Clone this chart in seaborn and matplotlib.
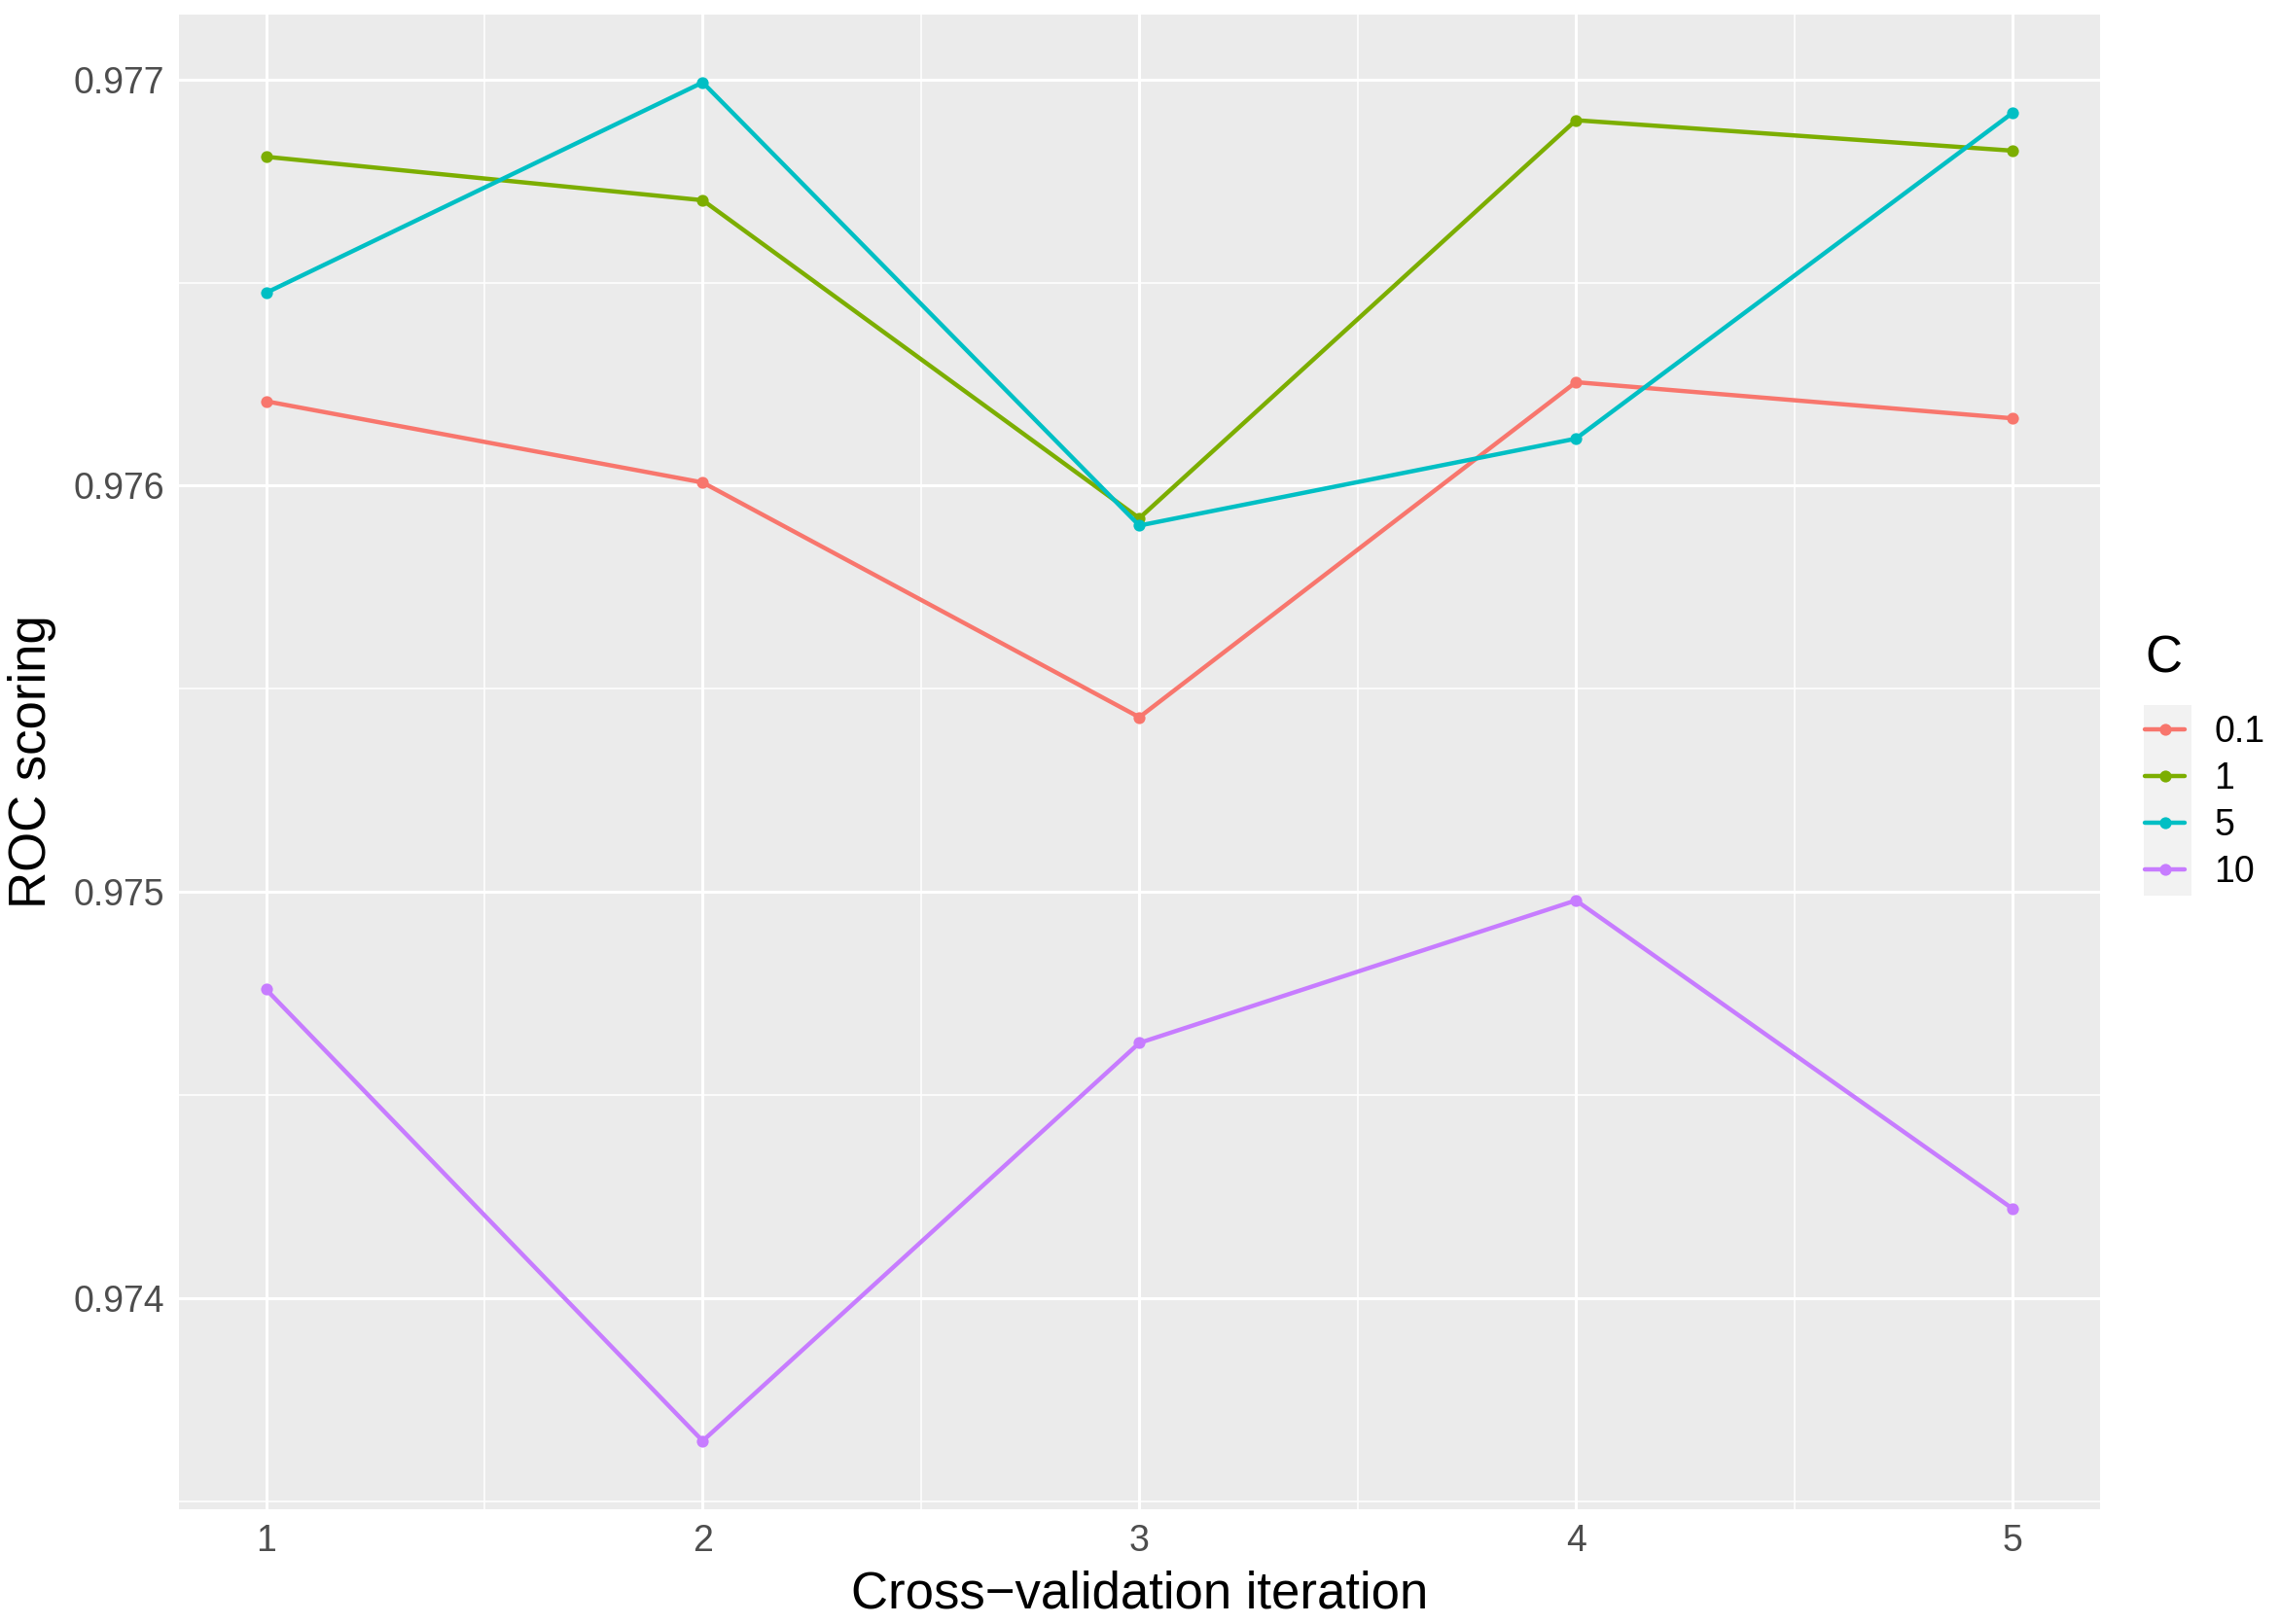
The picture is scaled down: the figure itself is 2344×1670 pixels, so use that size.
import pandas as pd
import numpy as np
import matplotlib
matplotlib.use('Agg')
import matplotlib.pyplot as plt
from matplotlib.patches import Rectangle
import seaborn as sns

# Values
iterations = [1, 2, 3, 4, 5]
c_levels = ['0.1', '1', '5', '10']
roc_c01 = [0.976208, 0.976008, 0.975430, 0.976255, 0.976166]
roc_c1 = [0.976810, 0.976703, 0.975920, 0.976900, 0.976825]
roc_c5 = [0.976475, 0.976993, 0.975902, 0.976116, 0.976918]
roc_c10 = [0.974760, 0.973648, 0.974628, 0.974979, 0.974220]
palette = ['#F8766D', '#7CAE00', '#00BFC4', '#C77CFF']

# long format table for seaborn
df = pd.DataFrame({
    'iteration': iterations * 4,
    'roc': roc_c01 + roc_c1 + roc_c5 + roc_c10,
    'C': np.repeat(c_levels, len(iterations)),
})

sns.set_style('darkgrid', {'axes.facecolor': '#EBEBEB', 'grid.color': 'white'})
plt.rcParams['font.family'] = ['Liberation Sans', 'DejaVu Sans']
plt.rcParams['text.color'] = 'black'
plt.rcParams['axes.labelcolor'] = 'black'

fig = plt.figure(figsize=(11.72, 8.35), dpi=200)
ax = fig.add_axes([0.0784, 0.0707, 0.8426, 0.9203])

sns.lineplot(data=df, x='iteration', y='roc', hue='C', hue_order=c_levels,
             palette=palette, marker='o', markersize=4.4, markeredgewidth=0,
             linewidth=1.6, ax=ax)

ax.set_xlim(0.8, 5.2)
ax.set_ylim(0.97348, 0.97716)
ax.set_xticks([1, 2, 3, 4, 5])
ax.set_yticks([0.974, 0.975, 0.976, 0.977])
ax.set_xticklabels(['1', '2', '3', '4', '5'])
ax.set_yticklabels(['0.974', '0.975', '0.976', '0.977'])
ax.set_xticks([1.5, 2.5, 3.5, 4.5], minor=True)
ax.set_yticks([0.9735, 0.9745, 0.9755, 0.9765], minor=True)
ax.grid(which='major', color='white', linewidth=1.1)
ax.grid(which='minor', color='white', linewidth=0.55)
ax.set_axisbelow(True)
for s in ax.spines.values():
    s.set_visible(False)

ax.tick_params(axis='both', which='major', length=2.9, width=1.0, color='#333333',
               labelsize=13.5, labelcolor='#4D4D4D', pad=2.5)
ax.tick_params(axis='both', which='minor', length=0)
ax.set_xlabel('Cross\u2212validation iteration', fontsize=19, labelpad=4, color='black')
ax.set_ylabel('ROC scoring', fontsize=19, labelpad=6, color='black')

# legend on the right, ggplot style, key background drawn behind the axes layer
fig.patches.append(Rectangle((2204 / 2344, 1 - 921 / 1670), 49 / 2344, 196 / 1670,
                             transform=fig.transFigure, facecolor='#F2F2F2',
                             edgecolor='none', zorder=-1))
sns.move_legend(ax, loc='upper left', bbox_to_anchor=(2205 / 2344, 1 - 652 / 1670),
                bbox_transform=fig.transFigure, frameon=False, title='C',
                fontsize=13.5, title_fontsize=19, handlelength=1.1,
                handletextpad=0.8, labelspacing=0.32, borderpad=0,
                borderaxespad=0, alignment='left', labelcolor='black')
leg = ax.get_legend()
leg._legend_box.sep = 12
leg.get_title().set_color('black')
for h in leg.legend_handles:
    h.set_linewidth(1.6)
    h.set_markersize(4.4)

plt.savefig('out.png', dpi=200)
